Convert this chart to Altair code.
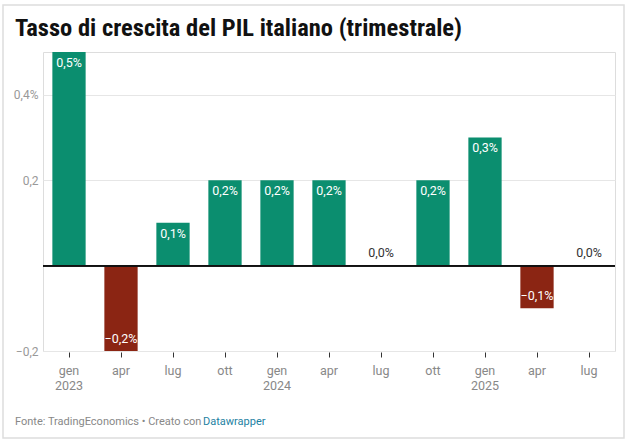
import altair as alt
import pandas as pd

# Quarterly GDP growth, Italy (%)
quarters = ["gen 2023", "apr 2023", "lug 2023", "ott 2023",
            "gen 2024", "apr 2024", "lug 2024", "ott 2024",
            "gen 2025", "apr 2025", "lug 2025"]
growth = [0.5, -0.2, 0.1, 0.2, 0.2, 0.2, 0.0, 0.2, 0.3, -0.1, 0.0]

y_ticks = [-0.2, 0.2, 0.4]

GREEN = "#0b8e6f"
RED = "#8b2513"
FONT = "Roboto"
TITLE_FONT = "Roboto Condensed, Liberation Sans Narrow, Roboto"

df = pd.DataFrame({"q": quarters, "v": growth})

W, H = 572, 299

x_enc = alt.X(
    "q:N", sort=quarters,
    scale=alt.Scale(paddingInner=0.36, paddingOuter=0.18),
    axis=alt.Axis(
        title=None, domain=False, ticks=True, tickSize=5, tickColor="#333",
        offset=1, labelPadding=7, labelAngle=0,
        labelFont=FONT, labelFontSize=12.5, labelColor="#888",
        labelLineHeight=15,
        labelExpr="split(datum.value, ' ')[0] == 'gen' ? split(datum.value, ' ') : split(datum.value, ' ')[0]",
    ),
)
y_scale = alt.Scale(domain=[-0.2, 0.5], nice=False, zero=False)

base = alt.Chart(df)

bars = base.mark_bar().encode(
    x=x_enc,
    y=alt.Y(
        "v:Q", scale=y_scale,
        axis=alt.Axis(
            title=None, values=y_ticks, domain=False, ticks=False,
            labelPadding=5, labelFont=FONT, labelFontSize=12, labelColor="#999",
            gridColor="#e6e6e6", gridWidth=1,
            labelExpr="datum.value == 0.4 ? '0,4%' : replace(format(datum.value, '.1f'), '.', ',')",
        ),
    ),
    y2=alt.datum(0),
    color=alt.condition("datum.v < 0", alt.value(RED), alt.value(GREEN)),
)

zero_line = base.mark_rule(color="#111", strokeWidth=1.2).encode(y=alt.datum(0))

label_calc = "replace(format(datum.v, '.1f'), '.', ',') + '%'"
text_base = base.transform_calculate(lbl=label_calc)
x_txt = alt.X("q:N", sort=quarters)
y_txt = alt.Y("v:Q", scale=y_scale)

pos_labels = text_base.transform_filter("datum.v > 0").mark_text(
    baseline="top", dy=5, color="white", font=FONT, fontSize=12.5
).encode(x=x_txt, y=y_txt, text="lbl:N")

neg_labels = text_base.transform_filter("datum.v < 0").mark_text(
    baseline="bottom", dy=-5, color="white", font=FONT, fontSize=12.5
).encode(x=x_txt, y=y_txt, text="lbl:N")

zero_labels = text_base.transform_filter("datum.v == 0").mark_text(
    baseline="bottom", dy=-6, color="#333", font=FONT, fontSize=12.5
).encode(x=x_txt, y=y_txt, text="lbl:N")

# outer frame, title and footer placed relative to the plot area
frame = alt.Chart(pd.DataFrame({"a": [0]})).mark_rect(
    fill=None, stroke="#dddddd", strokeWidth=1.5, clip=False
).encode(x=alt.value(-40), x2=alt.value(581), y=alt.value(-47), y2=alt.value(386))

title = alt.Chart(pd.DataFrame({"t": ["Tasso di crescita del PIL italiano (trimestrale)"]})).mark_text(
    align="left", baseline="alphabetic", font=TITLE_FONT,
    fontSize=24.5, fontWeight="bold", color="#111"
).encode(x=alt.value(-28), y=alt.value(-16), text="t:N")

footer_a = alt.Chart(pd.DataFrame({"t": ["Fonte: TradingEconomics • Creato con"]})).mark_text(
    align="left", baseline="middle", font=FONT, fontSize=11, color="#888"
).encode(x=alt.value(-28), y=alt.value(370), text="t:N")

footer_b = alt.Chart(pd.DataFrame({"t": ["Datawrapper"]})).mark_text(
    align="left", baseline="middle", font=FONT, fontSize=11, color="#1d81a2"
).encode(x=alt.value(160), y=alt.value(370), text="t:N")

chart = alt.layer(
    frame, bars, zero_line, pos_labels, neg_labels, zero_labels, title, footer_a, footer_b
).properties(
    width=W, height=H,
    autosize=alt.AutoSizeParams(type="none"),
    padding={"left": 43, "top": 52, "right": 13, "bottom": 91},
).configure_view(stroke=None).configure(background="white")

chart.save("out.html", embed_options={"renderer": "svg", "actions": False})
